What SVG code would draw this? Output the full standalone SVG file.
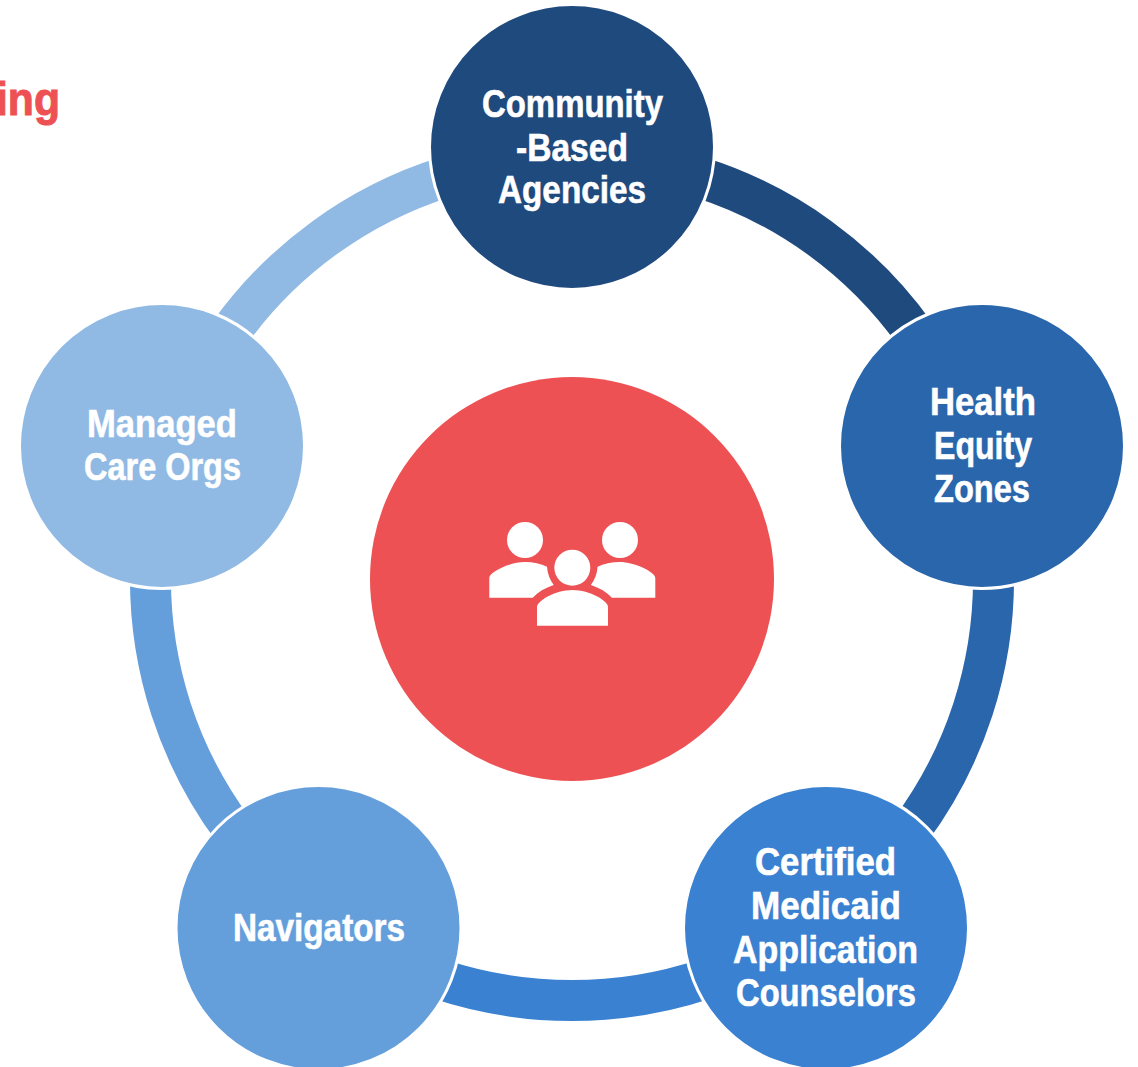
<svg xmlns="http://www.w3.org/2000/svg" width="1138" height="1067" viewBox="0 0 1138 1067">
<style>
text{font-family:"Liberation Sans Narrow","Liberation Sans",Arial,sans-serif;font-weight:700;font-size:39px;fill:#fff;stroke:#fff;stroke-width:.6}
.heading{fill:#ed5153;stroke:#ed5153;stroke-width:1;font-size:47px}
.arc{fill:none;stroke-width:41}
.node{stroke:#fff;stroke-width:3}
.icon{fill:#fff}
</style>
<rect width="1138" height="1067" fill="#fff"/>
<text class="heading" x="-4" y="115" textLength="64" lengthAdjust="spacingAndGlyphs">ing</text>
<g id="connectors">
<path class="arc" stroke="#1f4a7e" d="M572 157.5A421.5 421.5 0 0 1 972.9 448.7"/>
<path class="arc" stroke="#2a66ac" d="M972.9 448.7A421.5 421.5 0 0 1 819.8 920"/>
<path class="arc" stroke="#3a81d1" d="M819.8 920A421.5 421.5 0 0 1 324.2 920"/>
<path class="arc" stroke="#649fdc" d="M324.2 920A421.5 421.5 0 0 1 171.1 448.7"/>
<path class="arc" stroke="#90bae4" d="M171.1 448.7A421.5 421.5 0 0 1 572 157.5"/>
</g>
<g id="node-center">
<circle cx="572" cy="579" r="202" fill="#ed5153"/>
<g class="icon">
<circle cx="525" cy="540" r="18"/>
<circle cx="620" cy="540" r="18"/>
<circle cx="572.3" cy="567.7" r="18"/>
<path d="M489.3 597.7V578C489.3 572 510 562 525 562C533 562 541 564 547 566.7C547.5 574 550 580 553.7 585C545 588 538 592 532.700 597.7Z"/>
<path d="M655.3 597.7V578C655.3 572 634.600 562 619.600 562C611.600 562 603.600 564 597.600 566.7C597.100 574 594.600 580 590.900 585C599.600 588 606.600 592 611.900 597.7Z"/>
<path d="M537 625.7V607C537 601 555 590 572.500 590C590 590 608 601 608 607V625.7Z"/>
</g>
</g>
<g id="node-community">
<circle class="node" cx="572" cy="147" r="142.5" fill="#1f4a7e"/>
<text x="482" y="117" textLength="181" lengthAdjust="spacingAndGlyphs">Community</text>
<text x="516" y="161" textLength="112" lengthAdjust="spacingAndGlyphs">-Based</text>
<text x="498" y="203" textLength="148" lengthAdjust="spacingAndGlyphs">Agencies</text>
</g>
<g id="node-health">
<circle class="node" cx="982" cy="446" r="142.5" fill="#2a66ac"/>
<text x="930" y="415" textLength="106" lengthAdjust="spacingAndGlyphs">Health</text>
<text x="934" y="459" textLength="98" lengthAdjust="spacingAndGlyphs">Equity</text>
<text x="934" y="502" textLength="96" lengthAdjust="spacingAndGlyphs">Zones</text>
</g>
<g id="node-cmac">
<circle class="node" cx="826" cy="928" r="142.5" fill="#3a81d1"/>
<text x="755" y="875" textLength="141" lengthAdjust="spacingAndGlyphs">Certified</text>
<text x="751" y="919" textLength="150" lengthAdjust="spacingAndGlyphs">Medicaid</text>
<text x="733" y="963" textLength="185" lengthAdjust="spacingAndGlyphs">Application</text>
<text x="736" y="1006" textLength="180" lengthAdjust="spacingAndGlyphs">Counselors</text>
</g>
<g id="node-navigators">
<circle class="node" cx="318.500" cy="928" r="142.5" fill="#649fdc"/>
<text x="233" y="941" textLength="172" lengthAdjust="spacingAndGlyphs">Navigators</text>
</g>
<g id="node-managed">
<circle class="node" cx="162" cy="446" r="142.5" fill="#90bae4"/>
<text x="87" y="437" textLength="150" lengthAdjust="spacingAndGlyphs">Managed</text>
<text x="84" y="480" textLength="157" lengthAdjust="spacingAndGlyphs">Care Orgs</text>
</g>
</svg>
